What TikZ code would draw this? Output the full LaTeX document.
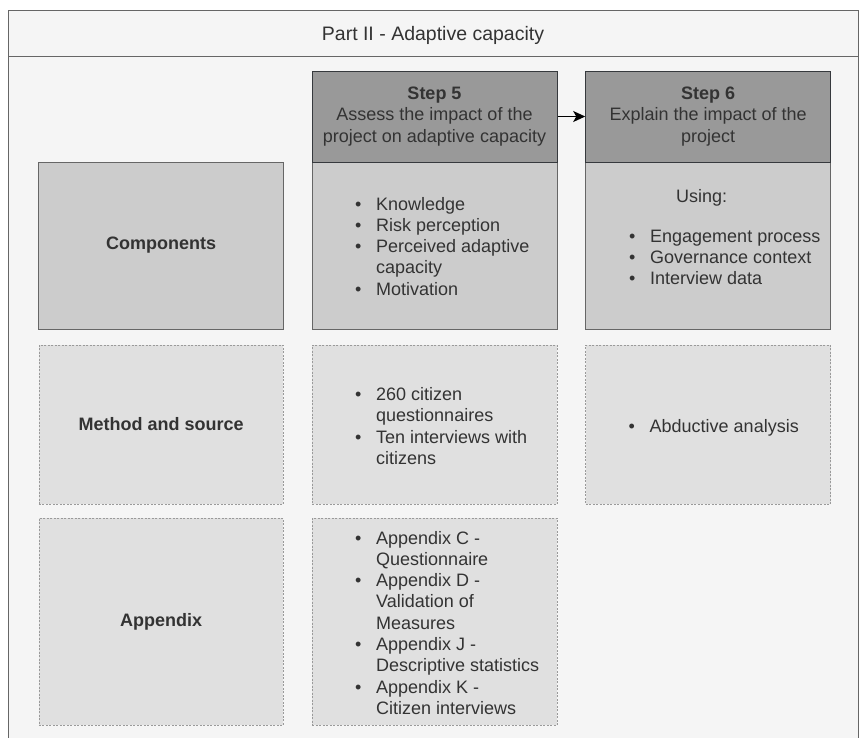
\documentclass[tikz,border=0pt]{standalone}
\usepackage{fontspec}
\setmainfont{Liberation Sans}
\usetikzlibrary{arrows.meta}

\definecolor{ink}{HTML}{333333}
\definecolor{framefill}{HTML}{F5F5F5}
\definecolor{framedraw}{HTML}{666666}
\definecolor{headfill}{HTML}{999999}
\definecolor{headdraw}{HTML}{36393D}
\definecolor{bodyfill}{HTML}{CCCCCC}
\definecolor{bodydraw}{HTML}{666666}
\definecolor{softfill}{HTML}{E0E0E0}
\definecolor{softdraw}{HTML}{9A9A9A}

% bullet followed by a fixed indent
\newcommand{\itm}{\makebox[21pt][l]{\textbullet}}

\tikzset{
  txt/.style={text=ink, font=\fontsize{18}{21.3}\selectfont, inner sep=0pt},
  headbox/.style={txt, draw=headdraw, fill=headfill, line width=1pt,
    minimum width=245pt, minimum height=91pt, align=center},
  bodybox/.style={txt, draw=bodydraw, fill=bodyfill, line width=1pt,
    minimum width=245pt, minimum height=167pt, font=\fontsize{18}{21.3}\selectfont\bfseries},
  softbox/.style={txt, draw=softdraw, fill=softfill, line width=0.8pt,
    dash pattern=on 2pt off 1.5pt, minimum width=245pt,
    font=\fontsize{18}{21.3}\selectfont\bfseries},
  listtxt/.style={txt, anchor=base west},
  link/.style={draw=black, line width=1.2pt, -{Stealth[length=12pt,width=11pt,inset=3pt]}},
}

\begin{document}
\begin{tikzpicture}[x=1pt, y=-1pt]
\useasboundingbox (0,0) rectangle (859,737);

% outer frame with title band
\draw[draw=framedraw, fill=framefill, line width=1pt] (8,10) rectangle (858,760);
\draw[draw=framedraw, line width=1pt] (8,56) -- (858,56);
\node[txt, font=\fontsize{19.5}{23}\selectfont] (title) at (433,35.5) {Part II - Adaptive capacity};

% row labels
\node[bodybox, minimum width=244.5pt] (comp) at (161.2,245.5) {Components};
\node[softbox, minimum width=244.5pt, minimum height=159pt] (meth) at (161.2,424.5) {Method and source};
\node[softbox, minimum width=244.5pt, minimum height=207pt] (appx) at (161.2,621.5) {Appendix};

% step 5 column
\node[bodybox] (s5c) at (434.5,245.5) {};
\node[headbox] (s5h) at (434.5,116.5) {\textbf{Step 5}\\Assess the impact of the\\project on adaptive capacity};
\node[softbox, minimum height=159pt] (s5m) at (434.5,424.5) {};
\node[softbox, minimum height=207pt] (s5a) at (434.5,621.5) {};

\node[listtxt] (s5clist) at (355,210) {\begin{tabular}[t]{@{}l@{}l@{}}
\itm & Knowledge\\
\itm & Risk perception\\
\itm & Perceived adaptive\\
     & capacity\\
\itm & Motivation
\end{tabular}};

\node[listtxt] (s5mlist) at (355,400.5) {\begin{tabular}[t]{@{}l@{}l@{}}
\itm & 260 citizen\\
     & questionnaires\\
\itm & Ten interviews with\\
     & citizens
\end{tabular}};

\node[listtxt] (s5alist) at (355,544) {\begin{tabular}[t]{@{}l@{}l@{}}
\itm & Appendix C -\\
     & Questionnaire\\
\itm & Appendix D -\\
     & Validation of\\
     & Measures\\
\itm & Appendix J -\\
     & Descriptive statistics\\
\itm & Appendix K -\\
     & Citizen interviews
\end{tabular}};

% step 6 column
\node[bodybox] (s6c) at (708.2,245.5) {};
\node[headbox] (s6h) at (708.2,116.5) {\textbf{Step 6}\\Explain the impact of the\\project};
\node[softbox, minimum height=159pt] (s6m) at (708.2,424.5) {};

\node[txt, anchor=base] (using) at (701.7,202) {Using:};
\node[listtxt] (s6clist) at (629,242) {\begin{tabular}[t]{@{}l@{}l@{}}
\itm & Engagement process\\
\itm & Governance context\\
\itm & Interview data
\end{tabular}};

\node[listtxt] (s6mlist) at (628.5,432) {\begin{tabular}[t]{@{}l@{}l@{}}
\itm & Abductive analysis
\end{tabular}};

% flow between the steps
\draw[link] (s5h) -- (s6h);
\end{tikzpicture}
\end{document}
